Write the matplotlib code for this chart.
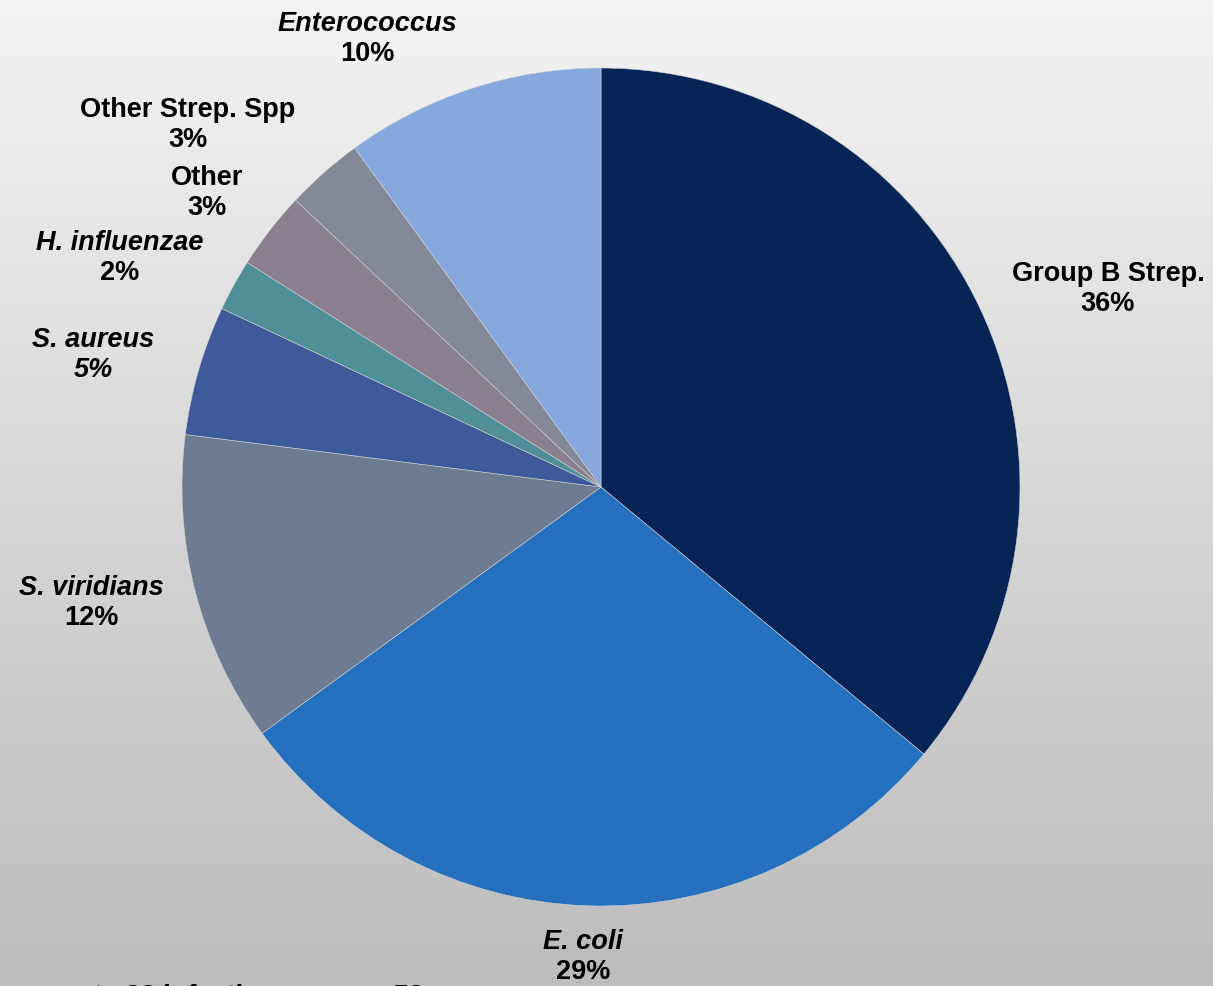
import numpy as np
import matplotlib
matplotlib.use('Agg')
import matplotlib.pyplot as plt

# data
labels = ["Group B Strep.", "E. coli", "S. viridians", "S. aureus",
          "H. influenzae", "Other", "Other Strep. Spp", "Enterococcus"]
values = [36, 29, 12, 5, 2, 3, 3, 10]
colors = ["#062456", "#2470BE", "#6E7C93", "#3F5A9A",
          "#4E8F98", "#8A7F8E", "#838896", "#87A8DF"]
name_italic = [False, True, True, True, True, False, False, True]
pct_italic = [False, False, False, True, False, False, False, False]

# label block centres (pie radius = 1)
label_pos = [(1.210, 0.473), (-0.043, -1.122), (-1.217, -0.277), (-1.212, 0.315),
             (-1.148, 0.547), (-0.940, 0.702), (-0.986, 0.864), (-0.558, 1.069)]

plt.rcParams['font.family'] = ['Liberation Sans', 'DejaVu Sans']

W, H = 1213, 986
fig = plt.figure(figsize=(W / 100, H / 100), dpi=100)

# grey vertical gradient background
bg = fig.add_axes([0, 0, 1, 1], zorder=0)
grad = np.linspace(0, 1, 256).reshape(-1, 1)
top = np.array([0xF3, 0xF3, 0xF3]) / 255
bot = np.array([0xBC, 0xBC, 0xBC]) / 255
img = top + (bot - top) * grad[:, :, None]
bg.imshow(img, aspect='auto', extent=[0, 1, 0, 1])
bg.axis('off')

ax = fig.add_axes([0, 0, 1, 1], zorder=1)
ax.patch.set_alpha(0)
cx, cy, r = 601, 487, 419

ax.pie(values, colors=colors, startangle=90, counterclock=False, radius=1,
       wedgeprops=dict(edgecolor='#d0d0d0', linewidth=0.4))
ax.set_xlim(-cx / r, (W - cx) / r)
ax.set_ylim(-(H - cy) / r, cy / r)
ax.set_aspect('equal')
ax.axis('off')

fs = 19.5
half = 15 / r
for lab, v, (x, y), ni, pi in zip(labels, values, label_pos, name_italic, pct_italic):
    ax.text(x, y + half, lab, ha='center', va='center', fontsize=fs,
            fontweight='bold', style='italic' if ni else 'normal', clip_on=False)
    ax.text(x, y - half, f"{v:.0f}%", ha='center', va='center', fontsize=fs,
            fontweight='bold', style='italic' if pi else 'normal', clip_on=False)

# footnote, mostly cut off by the bottom edge as in the original
ax.text((-46 - cx) / r, -(1004 - cy) / r, "some events 38 infections versus 58",
        ha='left', va='baseline', fontsize=fs, fontweight='bold')

fig.savefig("out.png", dpi=100)
